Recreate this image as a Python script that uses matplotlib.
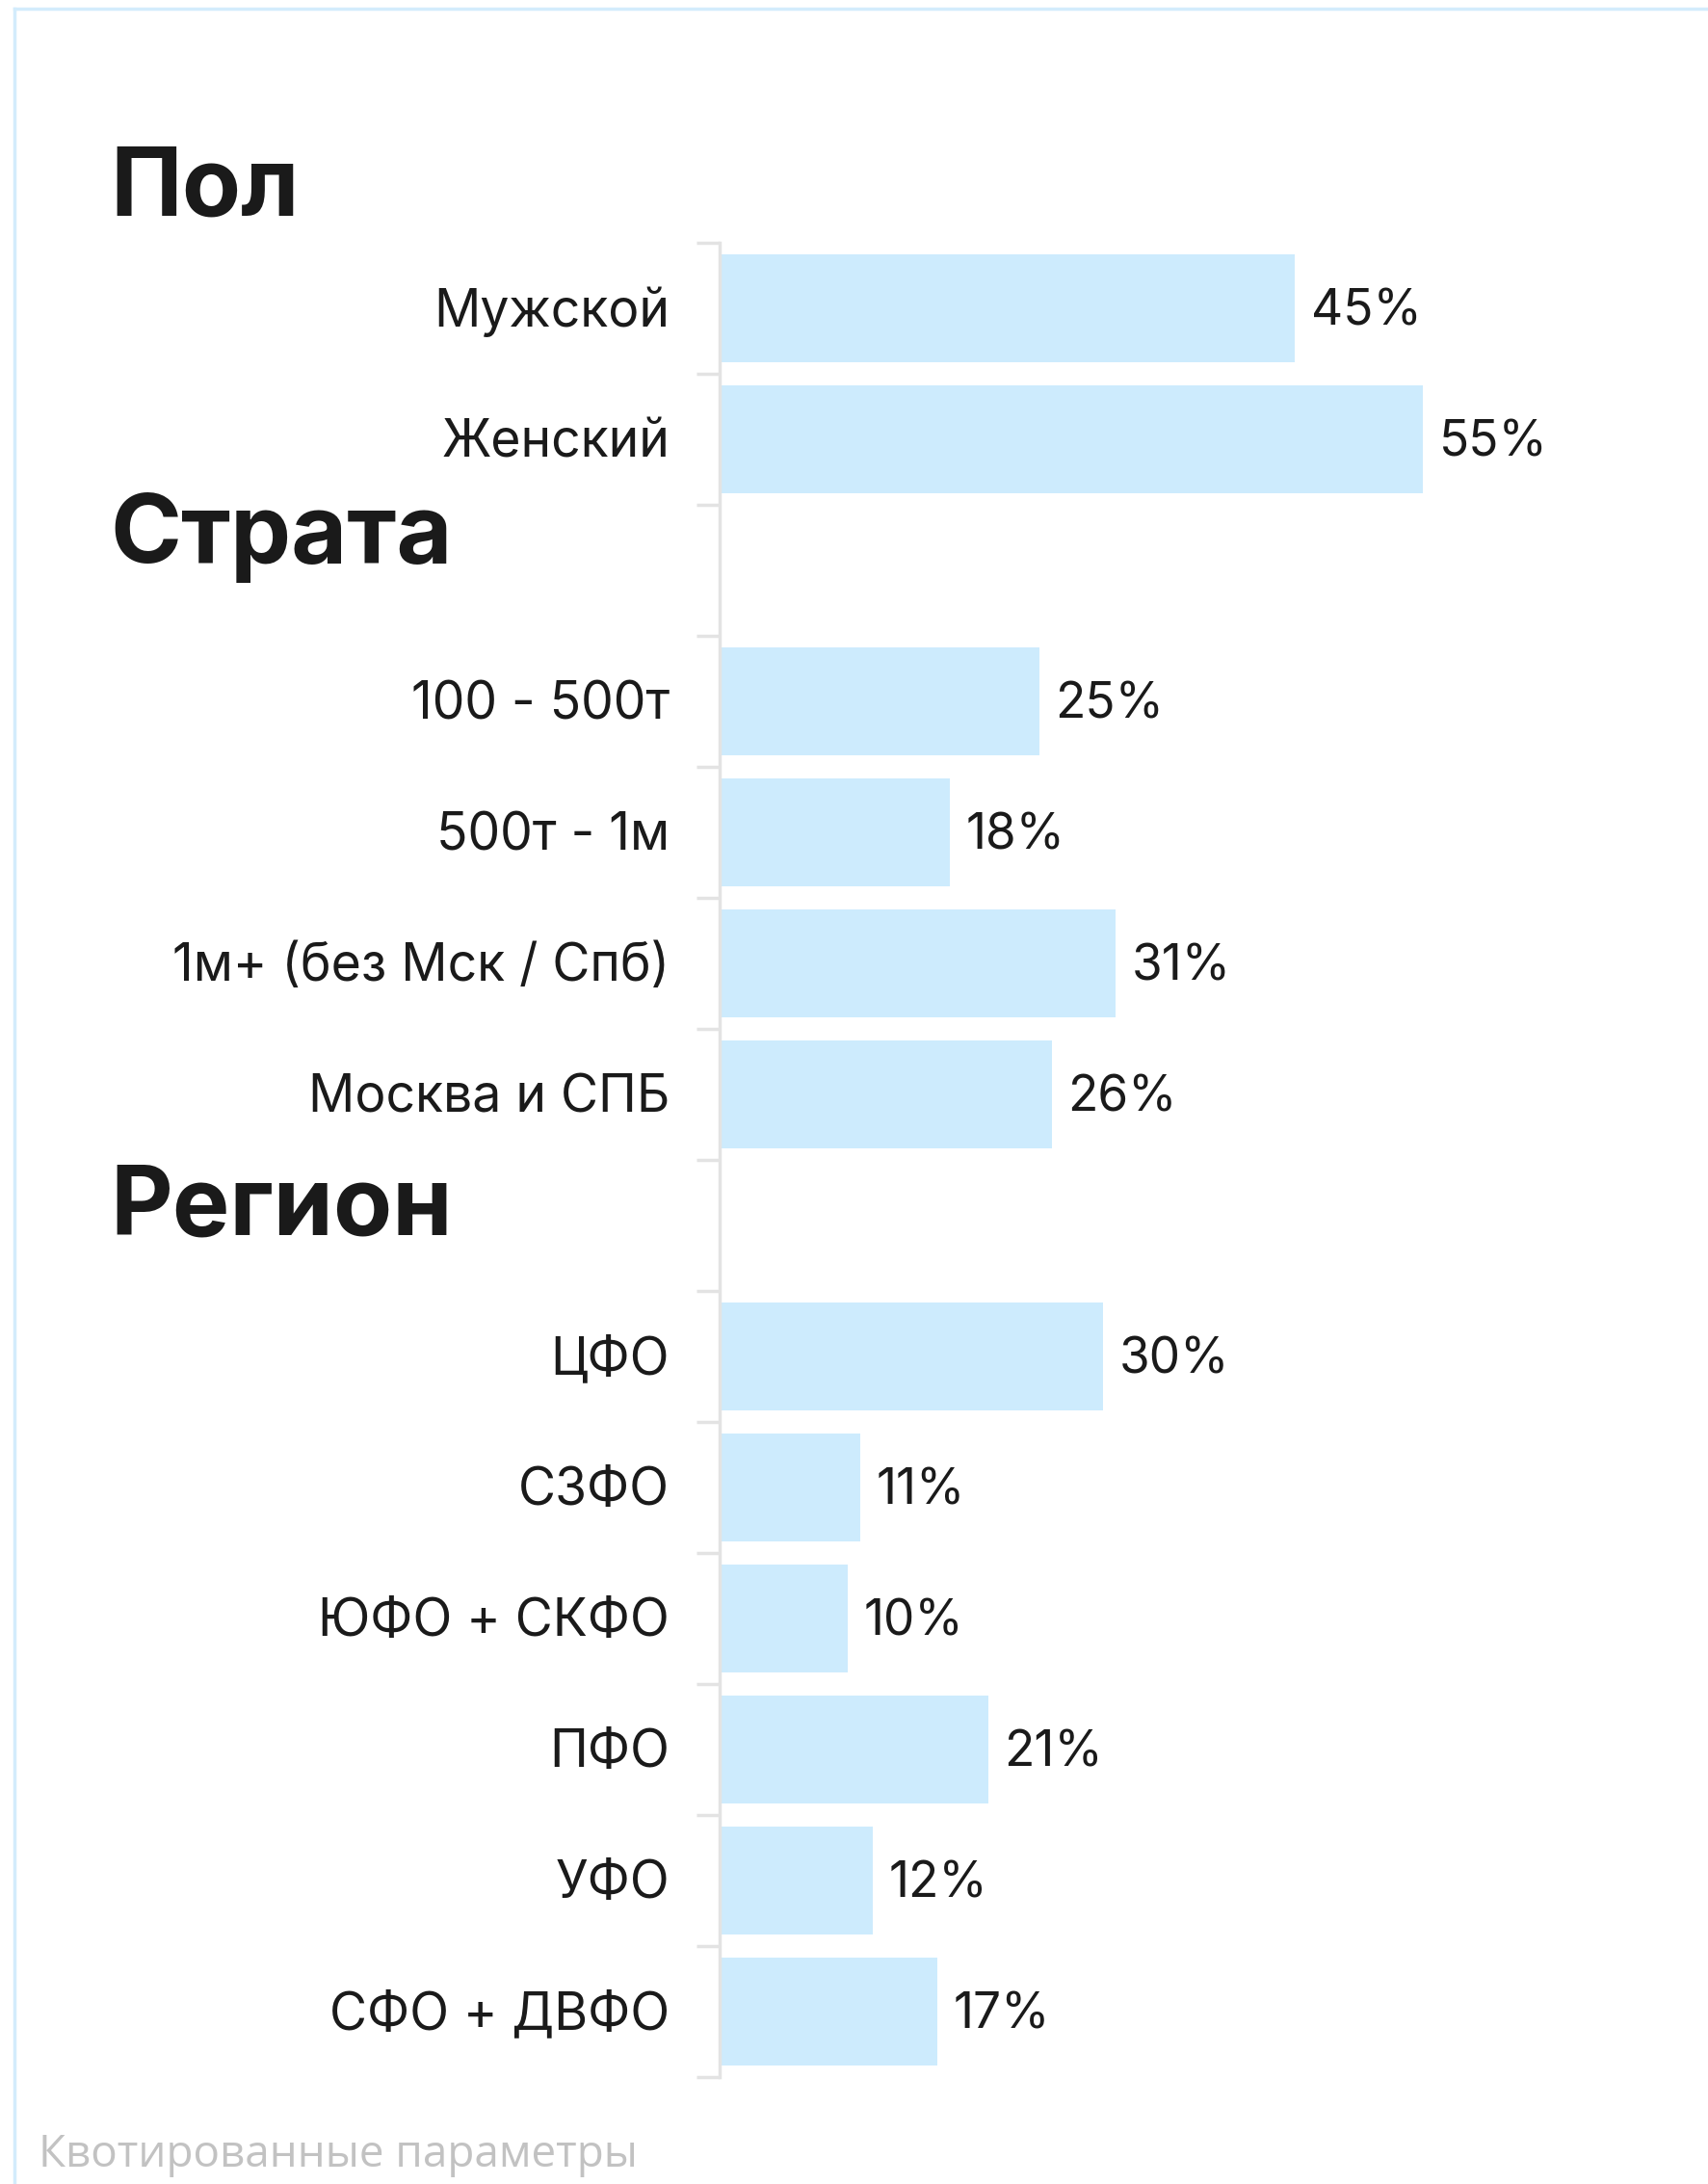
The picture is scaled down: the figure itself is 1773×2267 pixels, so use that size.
import numpy as np
import matplotlib.pyplot as plt
from matplotlib.lines import Line2D

# quota parameters, grouped; None marks the empty slot under a group heading
categories = ['Мужской', 'Женский', None,
              '100 - 500т', '500т - 1м', '1м+ (без Мск / Спб)', 'Москва и СПБ', None,
              'ЦФО', 'СЗФО', 'ЮФО + СКФО', 'ПФО', 'УФО', 'СФО + ДВФО']
values = [45, 55, None,
          25, 18, 31, 26, None,
          30, 11, 10, 21, 12, 17]
groups = ['Пол', 'Страта', 'Регион']
footer = 'Квотированные параметры'

W, H = 1773, 2267
bar_color = '#cdebfd'
text_color = '#1a1a1a'

plt.rcParams['font.family'] = ['Inter', 'DejaVu Sans']

fig = plt.figure(figsize=(W / 100, H / 100), dpi=100)
fig.patch.set_facecolor('white')

# axes: y from first tick (252px) to last (2156px), x from axis (747px) to right edge
ax = fig.add_axes([747 / W, 1 - 2156 / H, 1 - 747 / W, (2156 - 252) / H])

n = len(categories)
dy = 0.028  # nudge text down a little so it sits on the bar centre
for i, (c, v) in enumerate(zip(categories, values)):
    if v is None:
        continue
    ax.barh(i, v, height=0.83, color=bar_color, zorder=2)
    ax.text(v + 1.25, i + dy, f'{v}%', va='center', ha='left', fontsize=37,
            color=text_color)
    ax.text(-3.9, i + dy, c, va='center', ha='right', fontsize=38.5,
            color=text_color)

ax.set_xlim(0, (W - 747) / 13.27)
ax.set_ylim(n - 0.5, -0.5)

# ticks sit on the boundaries between slots
ax.set_yticks(np.arange(n + 1) - 0.5)
ax.set_yticklabels([])
ax.tick_params(axis='y', length=17, width=2.5, color='#e3e3e3', direction='out')
ax.set_xticks([])
for s in ['top', 'right', 'bottom']:
    ax.spines[s].set_visible(False)
ax.spines['left'].set_color('#e3e3e3')
ax.spines['left'].set_linewidth(2.5)
ax.patch.set_alpha(0)

# group headings
heading_base = [224, 584, 1282]
for g, yb in zip(groups, heading_base):
    fig.text(114 / W, 1 - yb / H, g, fontsize=72, fontweight='bold',
             color=text_color, va='baseline', ha='left')

fig.text(40 / W, 1 - 2249 / H, footer, fontsize=33, color='#c2c2c2',
         va='baseline', ha='left', family=['Open Sans', 'DejaVu Sans'])

# light blue frame on top and left edges
fig.add_artist(Line2D([15 / W, 1], [1 - 9 / H, 1 - 9 / H], color='#d3ecfc',
                      lw=2.5, transform=fig.transFigure))
fig.add_artist(Line2D([15 / W, 15 / W], [0, 1 - 9 / H], color='#d3ecfc',
                      lw=2.5, transform=fig.transFigure))

fig.savefig('out.png', dpi=100)
